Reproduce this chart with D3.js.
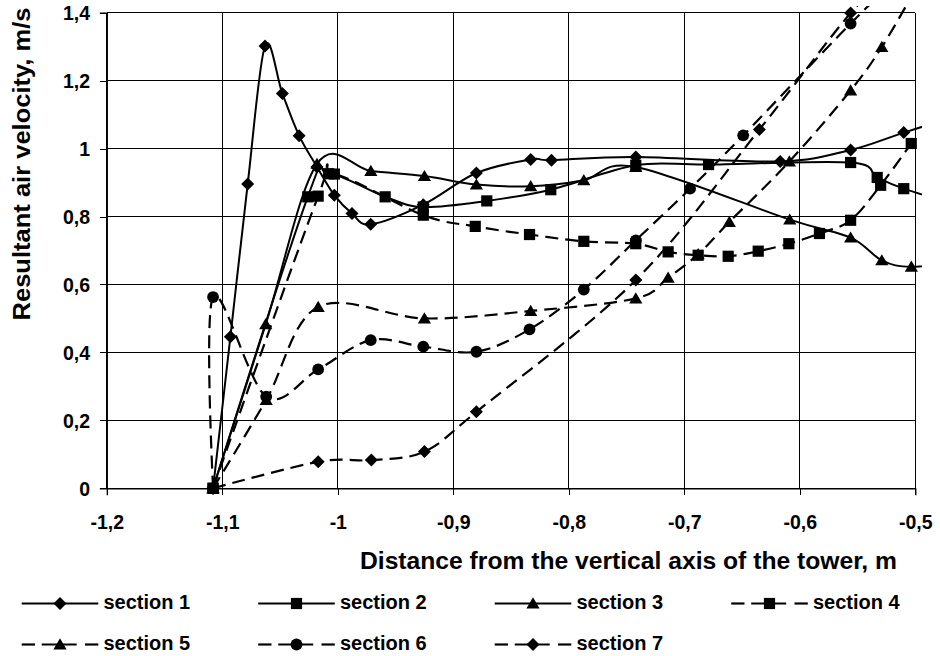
<!DOCTYPE html>
<html><head><meta charset="utf-8">
<script src="https://cdn.jsdelivr.net/npm/d3@7"></script>
<style>
html,body{margin:0;padding:0;background:#fff;}
svg{display:block;}
text{font-family:"Liberation Sans",Arial,Helvetica,sans-serif;font-weight:bold;fill:#000;}
</style></head><body>
<svg id="chart" width="940" height="656"></svg>
<script>
// ---------- data ----------
const xTicks = [-1.2, -1.1, -1.0, -0.9, -0.8, -0.7, -0.6, -0.5];
const yTicks = [0, 0.2, 0.4, 0.6, 0.8, 1.0, 1.2, 1.4];
const seriesNames = ["section 1", "section 2", "section 3", "section 4", "section 5", "section 6", "section 7"];
const xTitle = "Distance from the vertical axis of the tower, m";
const yTitle = "Resultant  air  velocity, m/s";

const s1x = [-1.108, -1.093, -1.078, -1.063, -1.048, -1.0335, -1.018, -1.003, -0.9877, -0.9715, -0.926, -0.880, -0.833, -0.815, -0.742, -0.617, -0.556, -0.510, -0.460];
const s1y = [0, 0.446, 0.896, 1.302, 1.162, 1.038, 0.946, 0.863, 0.809, 0.777, 0.835, 0.928, 0.968, 0.966, 0.975, 0.962, 0.996, 1.047, 1.100];

const s2x = [-1.108, -1.026, -1.008, -0.959, -0.926, -0.871, -0.8156, -0.742, -0.679, -0.556, -0.533, -0.510, -0.460];
const s2y = [0, 0.858, 0.926, 0.858, 0.828, 0.846, 0.879, 0.951, 0.953, 0.959, 0.915, 0.882, 0.830];

const s3x = [-1.108, -1.0624, -1.018, -0.9714, -0.925, -0.880, -0.833, -0.787, -0.742, -0.6087, -0.556, -0.529, -0.5034, -0.460];
const s3y = [0, 0.483, 0.955, 0.934, 0.919, 0.894, 0.889, 0.907, 0.946, 0.791, 0.738, 0.671, 0.652, 0.670];

const s4x = [-1.108, -1.017, -1.003, -0.926, -0.881, -0.834, -0.787, -0.742, -0.714, -0.688, -0.662, -0.636, -0.6095, -0.583, -0.556, -0.530, -0.5035];
const s4y = [0, 0.860, 0.925, 0.804, 0.771, 0.747, 0.727, 0.720, 0.696, 0.686, 0.683, 0.698, 0.720, 0.750, 0.789, 0.892, 1.015];

const s5x = [-1.108, -1.062, -1.017, -0.925, -0.833, -0.742, -0.714, -0.688, -0.661, -0.609, -0.556, -0.529, -0.503];
const s5y = [0, 0.260, 0.534, 0.500, 0.522, 0.559, 0.620, 0.689, 0.784, 0.962, 1.171, 1.299, 1.450];

const s6x = [-1.108, -1.108, -1.062, -1.017, -0.9715, -0.926, -0.880, -0.834, -0.787, -0.742, -0.695, -0.649, -0.556, -0.510];
const s6y = [0, 0.563, 0.270, 0.350, 0.436, 0.417, 0.402, 0.468, 0.585, 0.730, 0.882, 1.039, 1.368, 1.520];

const s7x = [-1.108, -1.017, -0.971, -0.925, -0.880, -0.742, -0.635, -0.556, -0.510];
const s7y = [0, 0.078, 0.083, 0.108, 0.225, 0.613, 1.056, 1.399, 1.550];

const seriesX = [s1x, s2x, s3x, s4x, s5x, s6x, s7x];
const seriesY = [s1y, s2y, s3y, s4y, s5y, s6y, s7y];

// ---------- styles ----------
const seriesDashed = [false, false, false, true, true, true, true];
const seriesMarker = ["diamond", "square", "triangle", "square", "triangle", "circle", "diamond"];

// ---------- layout ----------
const svg = d3.select("#chart");
const X0 = 106.8, X1 = 915.3, Y0 = 488.3, Y1 = 12.7;
const x = d3.scaleLinear().domain([-1.2, -0.5]).range([X0, X1]);
const y = d3.scaleLinear().domain([0, 1.4]).range([Y0, Y1]);
const fmt = v => d3.format(".1~f")(v).replace(".", ",").replace("−", "-");

svg.append("rect").attr("width", 940).attr("height", 656).attr("fill", "#fff");

// grid
const grid = svg.append("g").attr("stroke", "#000").attr("stroke-width", 1).attr("shape-rendering", "crispEdges");
grid.selectAll("line.v").data(xTicks).join("line")
  .attr("x1", d => x(d)).attr("x2", d => x(d)).attr("y1", Y1).attr("y2", Y0);
grid.selectAll("line.h").data(yTicks).join("line")
  .attr("x1", X0).attr("x2", X1).attr("y1", d => y(d)).attr("y2", d => y(d));

// axes
const xAxis = d3.axisBottom(x).tickValues(xTicks).tickSize(7).tickPadding(0).tickFormat(fmt);
const yAxis = d3.axisLeft(y).tickValues(yTicks).tickSize(7).tickPadding(0).tickFormat(fmt);
const gx = svg.append("g").attr("transform", `translate(0,${Y0})`).call(xAxis);
const gy = svg.append("g").attr("transform", `translate(${X0},0)`).call(yAxis);
[gx, gy].forEach(g => {
  g.select(".domain").attr("stroke", "#000").attr("stroke-width", 1.3);
  g.selectAll(".tick line").attr("stroke", "#000").attr("stroke-width", 1).attr("shape-rendering", "crispEdges");
  g.selectAll(".tick text").attr("font-size", 19.5).attr("font-family", null);
});
gx.selectAll(".tick text").attr("y", 529 - Y0).attr("dy", null);
gy.selectAll(".tick text").attr("x", 90 - X0).attr("dy", "0.36em");

// titles
svg.append("text").text(xTitle)
  .attr("font-size", 24).attr("text-anchor", "middle")
  .attr("textLength", 537).attr("lengthAdjust", "spacingAndGlyphs")
  .attr("x", 628.5).attr("y", 569);
svg.append("text").text(yTitle)
  .attr("font-size", 24).attr("text-anchor", "middle")
  .attr("textLength", 313).attr("lengthAdjust", "spacingAndGlyphs")
  .attr("transform", `translate(30,164) rotate(-90)`);

// markers
function markerPath(type) {
  switch (type) {
    case "diamond": return "M0,-6.5L6.5,0L0,6.5L-6.5,0Z";
    case "square": return "M-5.6,-5.6H5.6V5.6H-5.6Z";
    case "triangle": return "M0,-6.2L6.6,5L-6.6,5Z";
    case "circle": return d3.symbol(d3.symbolCircle, Math.PI * 5.9 * 5.9)();
  }
}

// clip for lines
svg.append("clipPath").attr("id", "lineclip")
  .append("rect").attr("x", 98).attr("y", 6).attr("width", 922 - 98).attr("height", 500 - 6);

const lineGen = d3.line().x(d => x(d[0])).y(d => y(d[1])).curve(d3.curveCardinal.tension(0));
const plot = svg.append("g");
seriesX.forEach((xs, i) => {
  const pts = xs.map((v, j) => [v, seriesY[i][j]]);
  plot.append("path").datum(pts)
    .attr("d", lineGen)
    .attr("fill", "none").attr("stroke", "#000")
    .attr("stroke-width", seriesDashed[i] ? 2.2 : 2)
    .attr("stroke-dasharray", seriesDashed[i] ? "13,7" : null)
    .attr("clip-path", "url(#lineclip)");
  const vis = pts.filter(p => p[0] >= -1.2 && p[0] <= -0.499 && p[1] >= 0 && p[1] <= 1.405);
  plot.append("g").selectAll("path").data(vis).join("path")
    .attr("d", markerPath(seriesMarker[i]))
    .attr("transform", p => `translate(${x(p[0])},${y(p[1])})`)
    .attr("fill", "#000");
});

// legend
const legendCols = [60, 296.5, 533, 769.5];
const legendRows = [603.5, 644.5];
const legend = svg.append("g");
seriesNames.forEach((name, i) => {
  const cx = legendCols[i % 4], cy = legendRows[Math.floor(i / 4)];
  const g = legend.append("g");
  if (seriesDashed[i]) {
    [[-38.3, -25], [-18.3, 16.7], [25, 38.3]].forEach(s => {
      g.append("line").attr("x1", cx + s[0]).attr("x2", cx + s[1]).attr("y1", cy).attr("y2", cy)
        .attr("stroke", "#000").attr("stroke-width", 2.2);
    });
  } else {
    g.append("line").attr("x1", cx - 38.3).attr("x2", cx + 38.3).attr("y1", cy).attr("y2", cy)
      .attr("stroke", "#000").attr("stroke-width", 2);
  }
  g.append("path").attr("d", markerPath(seriesMarker[i]))
    .attr("transform", `translate(${cx},${cy})`).attr("fill", "#000");
  g.append("text").text(name).attr("font-size", 20)
    .attr("x", cx + 43.5).attr("y", cy + 5.5);
});
</script>
</body></html>
